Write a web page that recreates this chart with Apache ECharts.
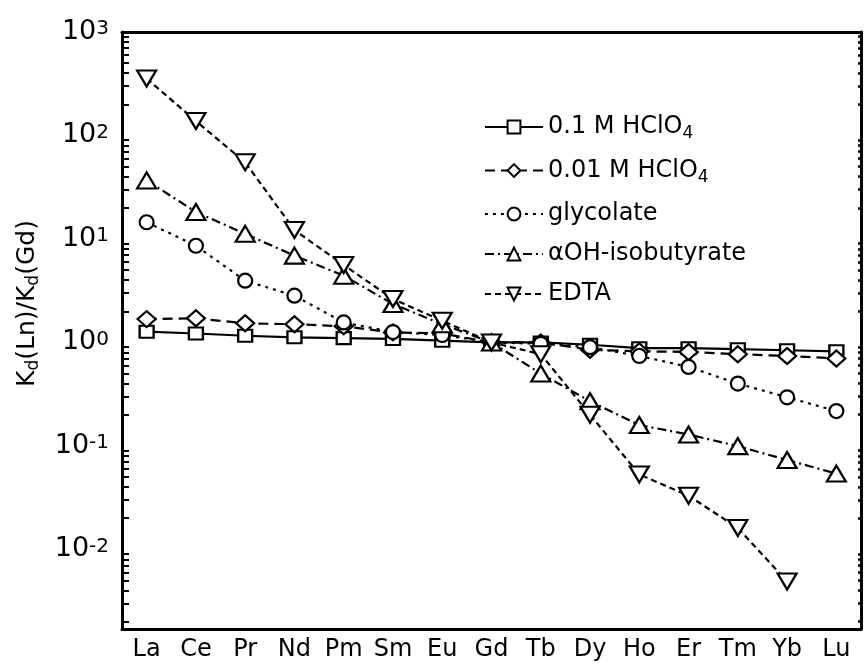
<!DOCTYPE html>
<html>
<head>
<meta charset="utf-8">
<script src="https://cdn.jsdelivr.net/npm/echarts@6/dist/echarts.min.js"></script>
<style>
  html, body { margin: 0; padding: 0; background: #fff; }
  #chart { width: 865px; height: 666px; }
</style>
</head>
<body>
<div id="chart"></div>
<script>
// lanthanides, Kd(Ln)/Kd(Gd)
var elements = ['La', 'Ce', 'Pr', 'Nd', 'Pm', 'Sm', 'Eu', 'Gd', 'Tb', 'Dy', 'Ho', 'Er', 'Tm', 'Yb', 'Lu'];
var hclo4Strong = [1.27, 1.22, 1.16, 1.12, 1.10, 1.08, 1.04, 1.00, 1.00, 0.95, 0.88, 0.88, 0.86, 0.84, 0.82];
var hclo4Weak = [1.68, 1.71, 1.53, 1.50, 1.43, 1.25, 1.22, 1.00, 1.00, 0.85, 0.82, 0.81, 0.77, 0.74, 0.70];
var glycolate = [14.5, 8.6, 3.95, 2.83, 1.56, 1.26, 1.18, 1.00, 0.97, 0.90, 0.74, 0.58, 0.40, 0.295, 0.217];
var isobutyrate = [36.8, 18.2, 11.2, 6.9, 4.42, 2.35, 1.5, 1.00, 0.50, 0.27, 0.159, 0.129, 0.0995, 0.073, 0.054];
var edta = [355, 138, 55, 12.2, 5.6, 2.63, 1.62, 1.00, 0.77, 0.20, 0.053, 0.033, 0.0161, 0.0049, null];
var seriesNames = ['0.1 M HClO4', '0.01 M HClO4', 'glycolate', '\u03b1OH-isobutyrate', 'EDTA'];

var yMin = 0.0017, yMax = 1000;
var font = 'DejaVu Sans';

var chart = echarts.init(document.getElementById('chart'));

function makeSeries(name, data, symbol, size, dash) {
  return {
    name: name,
    type: 'line',
    data: data,
    symbol: symbol,
    symbolSize: size,
    showAllSymbol: true,
    connectNulls: false,
    lineStyle: { color: '#000', width: 2.2, type: dash },
    itemStyle: { color: '#fff', borderColor: '#000', borderWidth: 2.2 },
    z: 3
  };
}

var supLabel = function (v) {
  var e = Math.round(Math.log10(v));
  return '{b|10}{s|' + e + '}';
};

var axisRich = {
  b: { fontFamily: font, fontSize: 27, color: '#000' },
  s: { fontFamily: font, fontSize: 20, color: '#000', padding: [0, 0, 6, 0] }
};

chart.setOption({
  animation: false,
  backgroundColor: '#fff',
  grid: { left: 122, right: 4, top: 32, bottom: 37 },
  legend: {
    orient: 'vertical',
    left: 479,
    top: 110,
    itemWidth: 58,
    itemHeight: 16,
    itemGap: 16,
    data: seriesNames,
    formatter: function (name) {
      return name.replace('HClO4', 'HClO{sub|4}');
    },
    textStyle: {
      fontFamily: font,
      fontSize: 24,
      color: '#000',
      rich: {
        sub: { fontFamily: font, fontSize: 17, color: '#000', padding: [14, 0, 0, 0] }
      }
    }
  },
  xAxis: [
    {
      type: 'category',
      data: elements,
      boundaryGap: true,
      axisLine: { lineStyle: { color: '#000', width: 3 } },
      axisTick: { inside: true, length: 9, interval: 0, alignWithLabel: true, lineStyle: { color: '#000', width: 2 } },
      axisLabel: { interval: 0, fontFamily: font, fontSize: 24, color: '#000', margin: 9 },
      splitLine: { show: false }
    },
    {
      type: 'category',
      data: elements,
      position: 'top',
      boundaryGap: true,
      axisLine: { lineStyle: { color: '#000', width: 3 } },
      axisTick: { inside: true, length: 9, interval: 0, alignWithLabel: true, lineStyle: { color: '#000', width: 2 } },
      axisLabel: { show: false, interval: 0 },
      splitLine: { show: false }
    }
  ],
  yAxis: [
    {
      type: 'log',
      min: yMin,
      max: yMax,
      name: '{k|K}{sub|d}{k|(Ln)/K}{sub|d}{k|(Gd)}',
      nameLocation: 'middle',
      nameRotate: 90,
      nameGap: 80,
      nameTextStyle: {
        padding: [0, 0, 0, 54],
        rich: {
          k: { fontFamily: font, fontSize: 25, color: '#000' },
          sub: { fontFamily: font, fontSize: 17, color: '#000', padding: [13, 0, 0, 0] }
        }
      },
      axisLine: { show: true, lineStyle: { color: '#000', width: 3 } },
      axisTick: { inside: true, length: 13, lineStyle: { color: '#000', width: 2 } },
      minorTick: { show: true, splitNumber: 9, length: 7, lineStyle: { color: '#000', width: 2 } },
      axisLabel: { formatter: supLabel, rich: axisRich, margin: 13, showMinLabel: false },
      splitLine: { show: false },
      minorSplitLine: { show: false }
    },
    {
      type: 'log',
      min: yMin,
      max: yMax,
      position: 'right',
      axisLine: { show: true, lineStyle: { color: '#000', width: 3 } },
      axisTick: { inside: true, length: 8, lineStyle: { color: '#000', width: 2 } },
      minorTick: { show: true, splitNumber: 9, length: 3, lineStyle: { color: '#000', width: 2.5 } },
      axisLabel: { show: false },
      splitLine: { show: false },
      minorSplitLine: { show: false }
    }
  ],
  series: [
    makeSeries(seriesNames[0], hclo4Strong, 'rect', [14, 12], 'solid'),
    makeSeries(seriesNames[1], hclo4Weak, 'diamond', [18, 16], [10, 6]),
    makeSeries(seriesNames[2], glycolate, 'circle', 14, [3, 5]),
    makeSeries(seriesNames[3], isobutyrate, 'triangle', [19, 16], [9, 4, 2, 4]),
    makeSeries(seriesNames[4], edta, 'path://M0,0 L20,0 L10,17 Z', [19, 16], [6, 4])
  ]
});
</script>
</body>
</html>
